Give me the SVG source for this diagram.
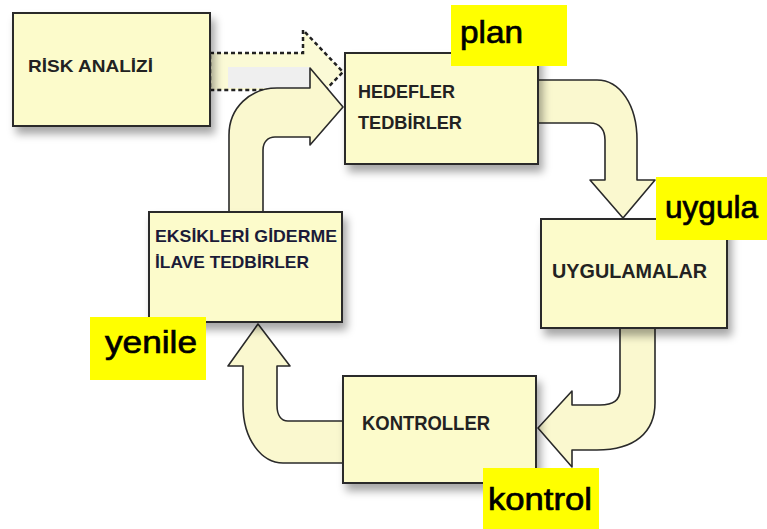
<svg xmlns="http://www.w3.org/2000/svg" width="767" height="529" viewBox="0 0 767 529">
<defs>
<filter id="sh" x="-10%" y="-10%" width="130%" height="140%">
<feDropShadow dx="4" dy="7" stdDeviation="4" flood-color="#000" flood-opacity="0.35"/>
</filter>
<style>
.box{fill:#FCFBCB;stroke:#2a2a2a;stroke-width:2;filter:url(#sh)}
.arr{fill:#FAF8CF;stroke:#2a2a2a;stroke-width:1.6;stroke-linejoin:round}
.dot{fill:#FBFAD6;stroke:#222;stroke-width:2.5;stroke-dasharray:4 3}
.t{font-family:"Liberation Sans",Arial,sans-serif;font-weight:bold;fill:#222}
.lbl{fill:#FFFF00}
.lt{font-family:"Liberation Sans",Arial,sans-serif;font-size:32px;fill:#000;stroke:#000;stroke-width:0.7}
</style>
</defs>
<rect width="767" height="529" fill="#fff"/>
<g id="connectors">
<path class="dot" d="M210,53 L303,53 L303,30 L343,72 L303,113 L303,90 L210,90 Z"/>
<rect x="228" y="67" width="82" height="21" fill="#EFEFEF"/>
<path class="arr" d="M229,212 L229,135 C229,108 250,88 277,88 L310,88 L310,68 L343,107 L310,145 L310,137 L275,137 C268,137 263,142 263,150 L263,212 Z"/>
<path class="arr" d="M538,80 L597,80 C620,80 637,105 637,140 L637,180 L655,180 L623,218 L590,180 L605,180 L605,140 C605,130 600,123 590,123 L538,123 Z"/>
<path class="arr" d="M620,328 L655,328 L655,403 C655,432 635,450 597,450 L572,450 L572,467 L538,428 L572,391 L572,405 L600,405 C613,405 620,400 620,390 Z"/>
<path class="arr" d="M343,421 L288,421 C281,421 277,415 277,405 L277,366 L290,366 L258,324 L228,366 L243,366 L243,405 C243,440 262,463 283,463 L343,463 Z"/>
</g>
<g id="risk">
<rect class="box" x="13" y="13" width="197" height="113"/>
<text class="t" x="28" y="72" font-size="17" textLength="125" lengthAdjust="spacingAndGlyphs">RİSK ANALİZİ</text>
</g>
<g id="hedefler">
<rect class="box" x="345" y="53" width="193" height="111"/>
<text class="t" x="358" y="98" font-size="18" textLength="97" lengthAdjust="spacingAndGlyphs">HEDEFLER</text>
<text class="t" x="358" y="129" font-size="18" textLength="104" lengthAdjust="spacingAndGlyphs">TEDBİRLER</text>
</g>
<g id="uygulamalar">
<rect class="box" x="541" y="219" width="186" height="109"/>
<text class="t" x="552" y="278" font-size="20" textLength="155" lengthAdjust="spacingAndGlyphs">UYGULAMALAR</text>
</g>
<g id="kontroller">
<rect class="box" x="343" y="376" width="193" height="107"/>
<text class="t" x="362" y="430" font-size="20" textLength="128" lengthAdjust="spacingAndGlyphs">KONTROLLER</text>
</g>
<g id="eksikleri">
<rect class="box" x="149" y="212" width="193" height="110"/>
<text class="t" x="155" y="242" font-size="17" textLength="182" lengthAdjust="spacingAndGlyphs" style="fill:#1b1b38">EKSİKLERİ GİDERME</text>
<text class="t" x="155" y="268" font-size="17" textLength="154" lengthAdjust="spacingAndGlyphs" style="fill:#1b1b38">İLAVE TEDBİRLER</text>
</g>
<g id="plan">
<rect class="lbl" x="451" y="5" width="116" height="61"/>
<text class="lt" x="460" y="43" textLength="63" lengthAdjust="spacingAndGlyphs">plan</text>
</g>
<g id="uygula">
<rect class="lbl" x="656" y="177" width="111" height="63"/>
<text class="lt" x="665" y="218" textLength="93" lengthAdjust="spacingAndGlyphs">uygula</text>
</g>
<g id="kontrol">
<rect class="lbl" x="483" y="468" width="116" height="61"/>
<text class="lt" x="488" y="510" textLength="104" lengthAdjust="spacingAndGlyphs">kontrol</text>
</g>
<g id="yenile">
<rect class="lbl" x="90" y="317" width="116" height="63"/>
<text class="lt" x="105" y="353" textLength="92" lengthAdjust="spacingAndGlyphs">yenile</text>
</g>
</svg>
